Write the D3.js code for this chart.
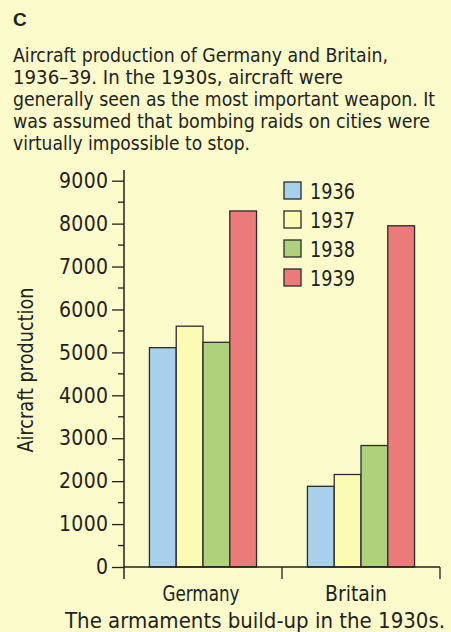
<!DOCTYPE html>
<html>
<head>
<meta charset="utf-8">
<script src="https://cdn.jsdelivr.net/npm/d3@7"></script>
<style>
  body { margin: 0; background: #fafacb; }
  svg { display: block; }
  text { font-family: "Liberation Sans Narrow", "DejaVu Sans Condensed", sans-serif; fill: #231f20; }
</style>
</head>
<body>
<div id="chart"></div>
<script>
// data
var countries = ["Germany", "Britain"];
var years = ["1936", "1937", "1938", "1939"];
var germany = [5110, 5610, 5235, 8295];
var britain = [1880, 2155, 2830, 7950];
var yTicks = [0, 1000, 2000, 3000, 4000, 5000, 6000, 7000, 8000, 9000];

var titleLines = [
  "Aircraft production of Germany and Britain,",
  "1936\u201339. In the 1930s, aircraft were",
  "generally seen as the most important weapon. It",
  "was assumed that bombing raids on cities were",
  "virtually impossible to stop."
];

var colors = ["#a9d0ea", "#fcfbb4", "#aed27c", "#ea7b7a"];

// widths of the text lines as printed (narrow face)
var titleWidths = [375, 330, 422, 417, 237];
var countryWidths = [77, 62];

var width = 451, height = 632;

var svg = d3.select("#chart").append("svg")
  .attr("width", width)
  .attr("height", height);

svg.append("rect").attr("width", width).attr("height", height).attr("fill", "#fafacb");

// header
svg.append("text")
  .attr("x", 13).attr("y", 26)
  .style("font-family", "'Liberation Sans', Arial, sans-serif")
  .style("font-weight", "bold")
  .style("font-size", "19px")
  .text("C");

svg.append("g").selectAll("text")
  .data(titleLines).enter()
  .append("text")
  .attr("x", 13)
  .attr("y", function(d, i) { return 62 + i * 22; })
  .attr("textLength", function(d, i) { return titleWidths[i]; })
  .attr("lengthAdjust", "spacingAndGlyphs")
  .style("font-size", "19px")
  .text(function(d) { return d; });

// scales
var left = 124, right = 440, bottom = 567;

var x0 = d3.scaleBand()
  .domain(countries)
  .range([left, right])
  .padding(0);

var x1 = d3.scaleBand()
  .domain(years)
  .range([0, x0.bandwidth()])
  .paddingInner(0)
  .paddingOuter(0.95);

var y = d3.scaleLinear()
  .domain([0, 9000])
  .range([bottom, 180.7]);

var rows = countries.map(function(c, i) {
  var vals = i == 0 ? germany : britain;
  return { country: c, values: years.map(function(yr, j) { return { year: yr, value: vals[j], idx: j }; }) };
});

// bars
var groups = svg.append("g").selectAll("g")
  .data(rows).enter()
  .append("g")
  .attr("transform", function(d) { return "translate(" + x0(d.country) + ",0)"; });

groups.selectAll("rect")
  .data(function(d) { return d.values; }).enter()
  .append("rect")
  .attr("x", function(d) { return x1(d.year); })
  .attr("y", function(d) { return y(d.value); })
  .attr("width", x1.bandwidth())
  .attr("height", function(d) { return bottom - y(d.value); })
  .attr("fill", function(d) { return colors[d.idx]; })
  .attr("stroke", "#2b2b2b")
  .attr("stroke-width", 1.3);

// y axis
var yAxis = d3.axisLeft(y)
  .tickValues(yTicks)
  .tickSize(12)
  .tickPadding(4)
  .tickFormat(d3.format("d"));

var gy = svg.append("g")
  .attr("transform", "translate(" + left + ",0)")
  .call(yAxis);
gy.select(".domain").remove();
gy.selectAll("line").attr("stroke", "#231f20").attr("stroke-width", 1.3);
gy.selectAll("text")
  .style("font-size", "21px")
  .attr("fill", "#231f20")
  .filter(function(d) { return d > 0; })
  .attr("textLength", 49)
  .attr("lengthAdjust", "spacing");

// minor ticks
var minor = d3.range(500, 9000, 1000);
svg.append("g").selectAll("line")
  .data(minor).enter()
  .append("line")
  .attr("x1", left - 6).attr("x2", left)
  .attr("y1", function(d) { return y(d); })
  .attr("y2", function(d) { return y(d); })
  .attr("stroke", "#231f20").attr("stroke-width", 1.3);

svg.append("line")
  .attr("x1", left).attr("x2", left)
  .attr("y1", 170).attr("y2", bottom + 12)
  .attr("stroke", "#231f20").attr("stroke-width", 1.5);

// x axis
svg.append("line")
  .attr("x1", left).attr("x2", right)
  .attr("y1", bottom).attr("y2", bottom)
  .attr("stroke", "#231f20").attr("stroke-width", 1.5);

svg.append("g").selectAll("line")
  .data(countries.map(function(c) { return x0(c) + x0.bandwidth(); })).enter()
  .append("line")
  .attr("x1", function(d) { return d; }).attr("x2", function(d) { return d; })
  .attr("y1", bottom).attr("y2", bottom + 12)
  .attr("stroke", "#231f20").attr("stroke-width", 1.3);

svg.append("g").selectAll("text")
  .data(countries).enter()
  .append("text")
  .attr("x", function(d, i) { return x0(d) + x0.bandwidth() / 2 + (i == 0 ? -2 : -5); })
  .attr("y", 601)
  .attr("text-anchor", "middle")
  .attr("textLength", function(d, i) { return countryWidths[i]; })
  .attr("lengthAdjust", "spacingAndGlyphs")
  .style("font-size", "21px")
  .text(function(d) { return d; });

// axis label
svg.append("text")
  .attr("transform", "translate(33,370) rotate(-90)")
  .attr("text-anchor", "middle")
  .attr("textLength", 165)
  .attr("lengthAdjust", "spacingAndGlyphs")
  .style("font-size", "21px")
  .text("Aircraft production");

// legend
var legend = svg.append("g").selectAll("g")
  .data(years).enter()
  .append("g")
  .attr("transform", function(d, i) { return "translate(284," + (182 + i * 29) + ")"; });

legend.append("rect")
  .attr("width", 17).attr("height", 17)
  .attr("fill", function(d, i) { return colors[i]; })
  .attr("stroke", "#2b2b2b").attr("stroke-width", 1.3);

legend.append("text")
  .attr("x", 26).attr("y", 17)
  .attr("textLength", 45)
  .attr("lengthAdjust", "spacingAndGlyphs")
  .style("font-size", "22px")
  .text(function(d) { return d; });

// caption
svg.append("text")
  .attr("x", 65).attr("y", 628)
  .attr("textLength", 380)
  .attr("lengthAdjust", "spacingAndGlyphs")
  .style("font-size", "22px")
  .text("The armaments build-up in the 1930s.");
</script>
</body>
</html>
